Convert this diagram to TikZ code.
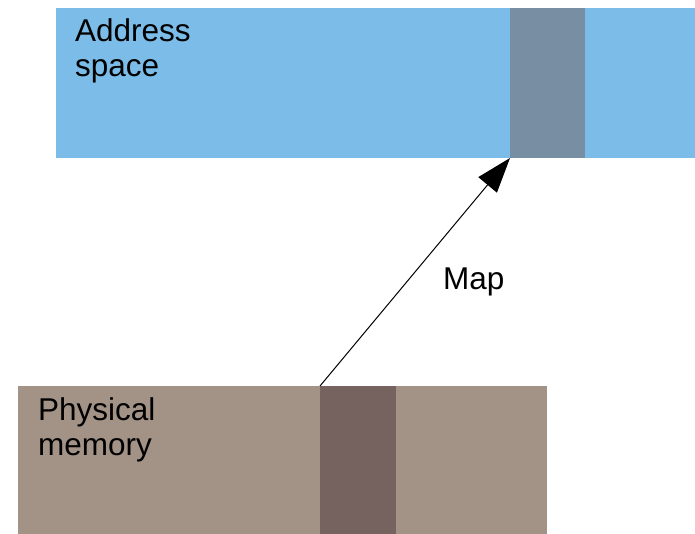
\documentclass[tikz,border=0pt]{standalone}
\usepackage{fontspec}
\setmainfont{Liberation Sans}
\usetikzlibrary{arrows.meta}
\definecolor{addrblue}{RGB}{123,189,232}
\definecolor{pageblue}{RGB}{120,142,163}
\definecolor{membrown}{RGB}{163,147,135}
\definecolor{pagebrown}{RGB}{118,98,94}
\tikzset{
  block/.style={rectangle, inner sep=0pt, outer sep=0pt, draw=none, anchor=north west},
  lbl/.style={inner sep=0pt, anchor=base west, font=\fontsize{31.5}{35.5}\selectfont, align=left},
}
\begin{document}
\begin{tikzpicture}[x=1pt, y=-1pt]
\useasboundingbox (0,0) rectangle (695,534);
% virtual address space with one mapped page
\node[block, fill=addrblue, minimum width=645pt, minimum height=150pt] (addr) at (56,8) {};
\node[block, fill=pageblue, minimum width=75pt, minimum height=150pt] (vpage) at (510,8) {};
% physical memory with one frame
\node[block, fill=membrown, minimum width=529pt, minimum height=150pt] (phys) at (18,386) {};
\node[block, fill=pagebrown, minimum width=76pt, minimum height=150pt] (ppage) at (320,386) {};
% labels
\node[lbl, anchor=north west] (addrlbl) at (75,18) {Address\\space};
\node[lbl, anchor=north west] (physlbl) at (38,397) {Physical\\memory};
\node[lbl, anchor=base west] (maplbl) at (443,289) {Map};
% mapping arrow
\draw[line width=1pt, -{Triangle[length=35pt, width=24pt]}] (ppage.north west) -- (vpage.south west);
\end{tikzpicture}
\end{document}
